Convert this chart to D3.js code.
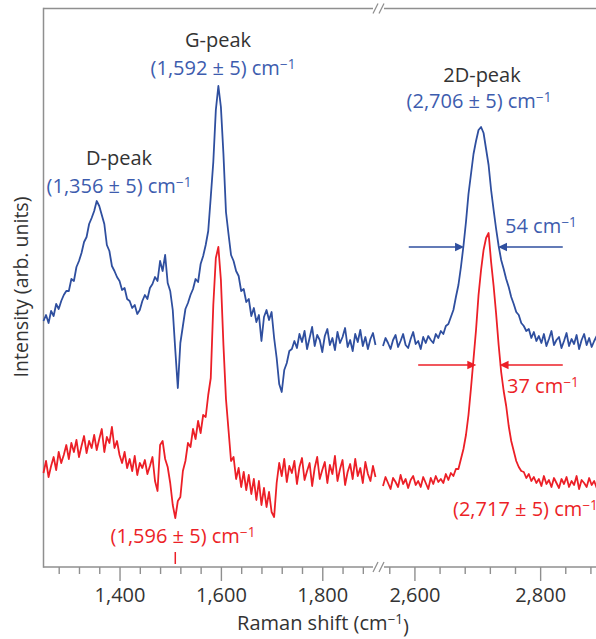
<!DOCTYPE html>
<html><head><meta charset="utf-8">
<script src="https://cdn.jsdelivr.net/npm/d3@7"></script>
<style>
html,body{margin:0;padding:0;background:#fff;}
svg{display:block;font-family:"Open Sans",sans-serif;}
</style></head><body>
<svg id="chart" width="596" height="639"></svg>
<script>
// Raman spectra, sampled on a regular wavenumber grid (cm^-1), intensity in arb. units
const lowStart = 1250, lowStep = 5;    // D / G band window
const highStart = 2550, highStep = 4;  // 2D band window

// upper (blue) spectrum
const blueLow = [
  246,252,244,256,251,263,258,266,272,276,
  276,288,286,300,306,314,325,330,343,349,
  356,366,361,352,343,322,316,301,296,290,
  286,277,279,268,266,259,262,253,257,266,
  272,268,279,283,290,286,306,296,312,284,
  276,257,217,179,224,241,258,264,272,278,
  288,285,303,311,322,336,370,405,457,481,
  460,413,355,333,312,306,296,291,276,278,
  265,268,251,259,245,252,226,250,257,247,
  255,229,209,183,175,197,204,216,218,226,
  219,233,225,236,218,229,240,221,232,227,
  215,231,238,222,229,217,235,224,230,239,
  220,227,216,233,225,237,221,230,218,228,
  234,222
];
const blueHigh = [
  221,229,224,218,227,232,220,226,233,222,
  219,228,235,223,226,218,230,224,231,227,
  224,233,229,236,233,241,243,250,257,270,
  282,300,321,345,373,393,413,426,437,440,
  434,418,402,377,357,338,321,307,298,288,
  280,270,263,255,252,244,241,236,238,229,
  235,226,231,224,233,221,228,236,222,227,
  230,219,226,234,221,228,223,232,218,227,
  233,222,229,220,226,231
];

// lower (red) spectrum
const redLow = [
  94,106,90,101,110,97,115,104,112,122,
  108,124,115,127,110,121,131,114,126,119,
  132,117,128,138,115,130,124,140,119,126,
  112,104,115,99,108,96,111,92,104,99,
  107,93,101,110,86,76,122,126,108,100,
  84,62,49,66,70,96,106,124,120,138,
  128,146,134,152,150,172,189,262,309,320,
  287,222,168,137,106,110,88,99,80,95,
  77,92,73,88,67,86,62,79,60,75,
  55,50,84,104,91,108,85,101,94,106,
  83,100,109,87,96,104,81,99,110,88,
  97,105,84,102,93,111,86,98,107,82,
  95,103,88,108,91,99,84,105,93,86,
  101,90
];
const redHigh = [
  81,90,84,78,89,85,80,92,83,88,
  79,87,91,82,86,80,90,84,78,89,
  83,91,85,88,84,93,87,94,91,98,
  98,108,118,132,152,179,208,237,272,297,
  317,329,334,305,281,253,222,195,176,161,
  141,126,116,106,100,96,95,89,93,86,
  90,84,88,81,91,83,87,80,89,84,
  79,88,83,90,80,86,82,91,78,87,
  84,80,89,82,86,79
];

// axis ticks
const lowMajorTicks = [1400, 1600, 1800];
const lowMinorTicks = [1280, 1320, 1360, 1440, 1480, 1520, 1560, 1640, 1680, 1720, 1760, 1840, 1880];
const highMajorTicks = [2600, 2800];
const highMinorTicks = [2560, 2640, 2680, 2720, 2760, 2840, 2880];

// full widths at half maximum of the 2D band: [centre, width, level]
const blueFwhm = [2706, 54, 320];
const redFwhm = [2717, 37, 202];
// arrow tails (cm^-1)
const blueArrowTails = [2591, 2836];
const redArrowTails = [2606, 2836];

const BLUE = "#2f4f9f", BLUE_TXT = "#3d5cae", RED = "#ec1f27", INK = "#333", AXIS = "#8f8f8f";

const svg = d3.select("#chart");
const plotTop = 8.5, plotBottom = 567, plotLeft = 43.5;

const xL = d3.scaleLinear().domain([1250, 1905]).range([43.5, 375.5]);
const xR = d3.scaleLinear().domain([2550, 2890]).range([383, 596.7]);
const y = d3.scaleLinear().domain([0, 560]).range([plotBottom, plotBottom - 560]);

// frame
const frame = svg.append("g").attr("stroke", AXIS).attr("stroke-width", 1.5).attr("fill", "none");
frame.append("line").attr("x1", plotLeft).attr("x2", plotLeft).attr("y1", plotTop - 0.75).attr("y2", plotBottom + 0.75);
[plotTop, plotBottom].forEach(yy => {
  frame.append("line").attr("x1", plotLeft).attr("x2", 373).attr("y1", yy).attr("y2", yy);
  frame.append("line").attr("x1", 384).attr("x2", 600).attr("y1", yy).attr("y2", yy);
  [375.5, 381.5].forEach(bx => {
    frame.append("line").attr("x1", bx - 2.5).attr("y1", yy + 5).attr("x2", bx + 2.5).attr("y2", yy - 5)
      .attr("stroke-width", 1.3);
  });
});

// axes
function drawTicks(scale, minor, major) {
  const gMin = svg.append("g").attr("transform", `translate(0,${plotBottom})`)
    .call(d3.axisBottom(scale).tickValues(minor).tickSize(7).tickFormat(""));
  const gMaj = svg.append("g").attr("transform", `translate(0,${plotBottom})`)
    .call(d3.axisBottom(scale).tickValues(major).tickSize(14).tickPadding(7).tickFormat(d3.format(",")));
  [gMin, gMaj].forEach(g => {
    g.select(".domain").remove();
    g.selectAll(".tick line").attr("stroke", AXIS).attr("stroke-width", 1.4);
    g.selectAll(".tick text").attr("fill", INK).attr("font-size", 20).attr("font-family", "Open Sans, sans-serif");
  });
}
drawTicks(xL, lowMinorTicks, lowMajorTicks);
drawTicks(xR, highMinorTicks, highMajorTicks);

// text with a superscript "−1"
function rich(x, yy, parts, opts) {
  const t = svg.append("text").attr("x", x).attr("y", yy)
    .attr("font-size", opts.size || 20).attr("fill", opts.fill || INK)
    .attr("text-anchor", opts.anchor || "middle");
  if (opts.transform) t.attr("transform", opts.transform);
  let raised = false;
  parts.forEach(p => {
    const sup = p.startsWith("^");
    const s = t.append("tspan").text(sup ? p.slice(1) : p);
    if (sup && !raised) { s.attr("dy", "-0.42em").attr("font-size", "0.68em"); raised = true; }
    else if (!sup && raised) { s.attr("dy", "0.42em"); raised = false; }
  });
  return t;
}

// spectra
function trace(data, start, step, scale, color) {
  const line = d3.line().x((d, i) => scale(start + i * step)).y(d => y(d));
  svg.append("path").datum(data).attr("d", line).attr("fill", "none")
    .attr("stroke", color).attr("stroke-width", 1.8).attr("stroke-linejoin", "round");
}
trace(blueLow, lowStart, lowStep, xL, BLUE);
trace(redLow, lowStart, lowStep, xL, RED);
trace(blueHigh, highStart, highStep, xR, BLUE);
trace(redHigh, highStart, highStep, xR, RED);

// FWHM arrows
function arrow(xFrom, xTo, yy, color) {
  const dir = Math.sign(xTo - xFrom), head = 9, half = 4.2;
  svg.append("line").attr("x1", xFrom).attr("x2", xTo - dir * head + dir).attr("y1", yy).attr("y2", yy)
    .attr("stroke", color).attr("stroke-width", 1.5);
  svg.append("path")
    .attr("d", `M${xTo},${yy}L${xTo - dir * head},${yy - half}L${xTo - dir * head},${yy + half}Z`)
    .attr("fill", color);
}
function fwhm(spec, tails, color) {
  const [c, w, lvl] = spec;
  arrow(xR(tails[0]), xR(c - w / 2), y(lvl), color);
  arrow(xR(tails[1]), xR(c + w / 2), y(lvl), color);
}
fwhm(blueFwhm, blueArrowTails, BLUE);
fwhm(redFwhm, redArrowTails, RED);

// labels
rich(119, 165, ["D-peak"], {});
rich(119, 193, ["(1,356 ± 5) cm", "^−1"], {fill: BLUE_TXT});
rich(218, 47, ["G-peak"], {});
rich(223, 75, ["(1,592 ± 5) cm", "^−1"], {fill: BLUE_TXT});
rich(482, 82, ["2D-peak"], {});
rich(479, 108, ["(2,706 ± 5) cm", "^−1"], {fill: BLUE_TXT});
rich(505, 233, [blueFwhm[1] + " cm", "^−1"], {fill: BLUE_TXT, anchor: "start"});
rich(507, 393, [redFwhm[1] + " cm", "^−1"], {fill: RED, anchor: "start"});
rich(183, 543, ["(1,596 ± 5) cm", "^−1"], {fill: RED});
rich(453, 516, ["(2,717 ± 5) cm", "^−1"], {fill: RED, anchor: "start"});
svg.append("line").attr("x1", xL(1510)).attr("x2", xL(1510)).attr("y1", 552).attr("y2", 564)
  .attr("stroke", RED).attr("stroke-width", 1.5);

// axis titles
rich(323, 630, ["Raman shift (cm", "^−1", ")"], {size: 20});
rich(0, 0, ["Intensity (arb. units)"], {size: 19.5, transform: "translate(28,287) rotate(-90)"});
</script>
</body></html>
